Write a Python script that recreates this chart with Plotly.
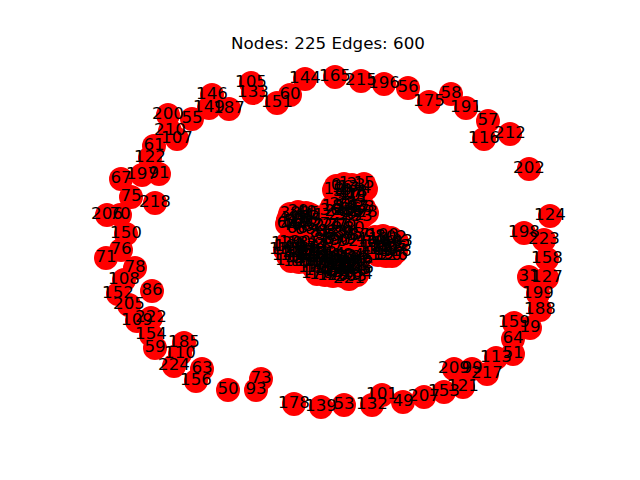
import plotly.graph_objects as go

# graph summary shown in the title
n_nodes = 225
n_edges = 600

# isolated nodes laid out on the outer ring (pixel positions)
ring_ids = [202, 124, 198, 223, 158, 31, 127, 199, 188, 159, 19, 64, 51, 113, 217,
            99, 209, 121, 153, 207, 49, 101, 132, 53, 139, 178, 73, 93, 50, 156,
            63, 224, 110, 185, 59, 154, 222, 109, 205, 86, 152, 108, 78, 76, 71,
            150, 206, 70, 75, 218, 67, 197, 91, 122, 61, 107, 210, 200, 55, 149,
            187, 146, 105, 133, 151, 60, 144, 165, 215, 196, 56, 175, 58, 191, 57,
            116, 212]
ring_x = [529, 550, 524, 544, 547, 529, 547, 538, 540, 514, 530, 513, 513, 496, 487,
          472, 454, 463, 444, 424, 403, 382, 372, 344, 321, 294, 261, 256, 228, 196,
          202, 174, 180, 184, 155, 151, 151, 137, 129, 152, 118, 124, 135, 121, 106,
          126, 107, 120, 131, 155, 121, 142, 159, 150, 154, 177, 170, 168, 192, 209,
          229, 212, 251, 253, 277, 290, 305, 335, 361, 384, 408, 429, 451, 466, 488,
          484, 510]
ring_y = [169, 216, 233, 240, 259, 277, 278, 294, 310, 323, 328, 339, 354, 358, 374,
          369, 369, 387, 392, 397, 402, 395, 405, 405, 407, 404, 379, 390, 390, 381,
          369, 366, 354, 343, 348, 335, 318, 321, 305, 291, 294, 280, 268, 250, 258,
          234, 215, 215, 197, 203, 179, 175, 174, 158, 146, 139, 131, 115, 119, 108,
          109, 95, 83, 93, 103, 95, 79, 77, 81, 84, 88, 102, 94, 108, 121,
          139, 134]

# connected nodes packed in the middle (eight tight clusters)
core_x = [336, 344, 352, 360, 366, 338, 346, 354, 362, 340, 350, 358, 334, 348, 356, 364, 342, 352,
          332, 340, 348, 356, 364, 335, 343, 351, 359, 367, 338, 346, 354, 362, 344, 352, 330, 358,
          290, 298, 306, 313, 288, 296, 304, 311, 291, 299, 307, 314, 294, 302, 309, 297, 305, 287,
          322, 330, 338, 346, 354, 320, 328, 336, 344, 352, 359, 324, 332, 340, 348, 356, 326, 342, 334,
          375, 383, 391, 397, 372, 380, 388, 395, 374, 382, 390, 396, 378, 386, 384, 376, 392, 387,
          287, 295, 303, 311, 285, 293, 301, 309, 316, 288, 296, 304, 312, 291, 299, 307, 300, 290, 314,
          313, 321, 329, 337, 311, 319, 327, 335, 314, 322, 330, 338, 317, 325, 333, 324, 320, 330,
          340, 348, 356, 342, 350, 358, 339, 347, 355, 343, 351, 357, 345, 353, 348, 341, 358, 344, 352, 349]
core_y = [186, 184, 185, 186, 189, 192, 191, 190, 193, 196, 196, 197, 190, 188, 194, 184, 188, 193,
          207, 205, 204, 206, 208, 212, 211, 210, 212, 213, 216, 215, 216, 217, 208, 213, 211, 209,
          214, 212, 213, 216, 220, 219, 218, 221, 226, 225, 226, 227, 222, 222, 214, 229, 230, 224,
          226, 225, 226, 227, 229, 233, 232, 233, 234, 235, 236, 240, 240, 241, 242, 240, 236, 229, 244,
          237, 236, 238, 242, 243, 243, 244, 247, 250, 250, 251, 252, 255, 256, 240, 247, 256, 248,
          244, 243, 244, 246, 250, 250, 249, 251, 252, 256, 256, 257, 258, 261, 262, 262, 253, 247, 248,
          255, 254, 255, 257, 262, 261, 262, 263, 268, 268, 269, 270, 274, 275, 276, 258, 271, 265,
          257, 256, 258, 263, 262, 264, 269, 270, 270, 276, 277, 275, 266, 266, 273, 272, 269, 260, 259, 279]
core_ids = [i for i in range(n_nodes) if i not in ring_ids]

ids = ring_ids + core_ids
xs = ring_x + core_x
ys = ring_y + core_y

# the page puts the figure 8px in from the corner, so shift the view to match
off = 8

fig = go.Figure()

fig.add_trace(
    go.Scatter(
        x=xs, y=ys,
        mode="markers+text",
        text=[str(i) for i in ids],
        textposition="middle center",
        textfont=dict(family="DejaVu Sans", size=16.7, color="black"),
        marker=dict(color="red", size=24, line=dict(width=0)),
        hoverinfo="text",
        showlegend=False,
    )
)

fig.update_layout(
    width=640,
    height=480,
    margin=dict(l=0, r=0, t=0, b=0),
    paper_bgcolor="white",
    plot_bgcolor="white",
    xaxis=dict(range=[off, 640 + off], visible=False),
    yaxis=dict(range=[480 + off, off], visible=False),
    title=dict(
        text="Nodes: " + str(n_nodes) + " Edges: " + str(n_edges),
        x=(328 - off) / 640, xanchor="center",
        y=1 - (43 - off) / 480, yanchor="middle",
        font=dict(family="DejaVu Sans", size=16.7, color="black"),
    ),
)

fig.write_html("out.html")
